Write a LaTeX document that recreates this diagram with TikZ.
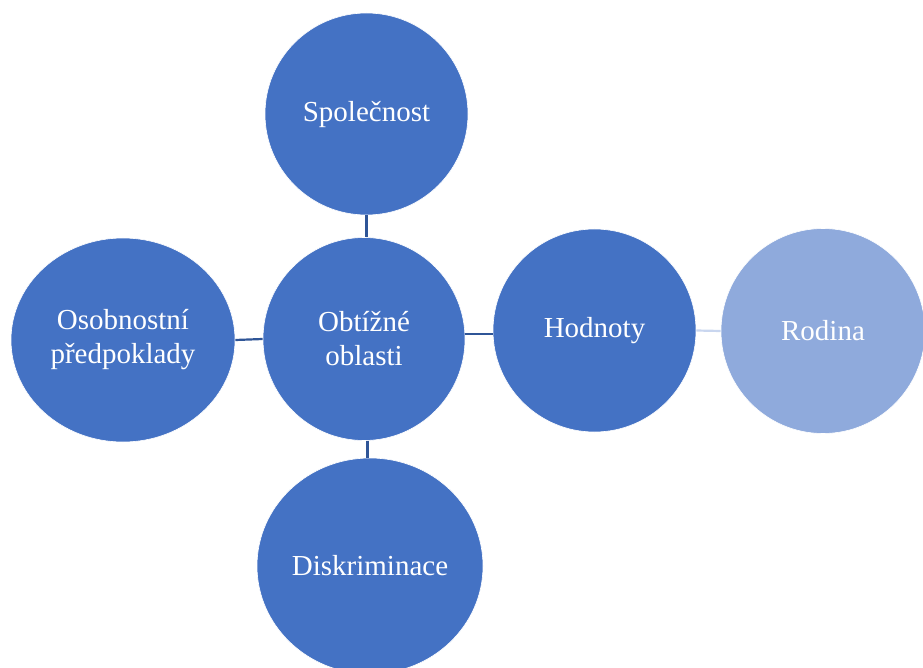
\documentclass[tikz,border=0pt]{standalone}
\usepackage{fontspec}
\setmainfont{Liberation Serif}
\usetikzlibrary{shapes.geometric}
\definecolor{dk}{HTML}{4472C4}
\definecolor{lt}{HTML}{8FAADC}
\definecolor{ln}{HTML}{2F5597}
\definecolor{lnl}{HTML}{C9D6EF}
\begin{document}
\begin{tikzpicture}[x=1pt,y=-1pt,
  bub/.style={ellipse, fill=dk, draw=white, line width=0.6pt, inner sep=0pt, text=white,
    font=\fontsize{29}{34}\selectfont, align=center},
  conn/.style={draw=ln, line width=2.2pt},
  connl/.style={draw=lnl, line width=2.2pt}]
\useasboundingbox (0,0) rectangle (923,668);
\node[bub, minimum width=203pt, minimum height=202pt] (spol) at (366.5,114) {Společnost};
\node[bub, minimum width=202pt, minimum height=203pt] (obt) at (364,339) {Obtížné\\oblasti};
\node[bub, minimum width=224pt, minimum height=204pt] (osob) at (123,340) {Osobnostní\\předpoklady};
\node[bub, minimum width=203pt, minimum height=203pt] (hodn) at (594.5,330.5) {Hodnoty};
\node[bub, fill=lt, minimum width=204pt, minimum height=205pt] (rod) at (823,331) {Rodina};
\node[bub, minimum width=226pt, minimum height=216pt] (disk) at (370,566) {Diskriminace};
\draw[conn] (spol.south) -- (spol.south |- obt.north);
\draw[conn] (osob.east) -- (obt.west);
\draw[conn] (obt.3) -- (obt.3 -| hodn.west);
\draw[connl] (hodn.east) -- (rod.west);
\draw[conn] (obt.-88) -- (obt.-88 |- disk.north);
\end{tikzpicture}
\end{document}
